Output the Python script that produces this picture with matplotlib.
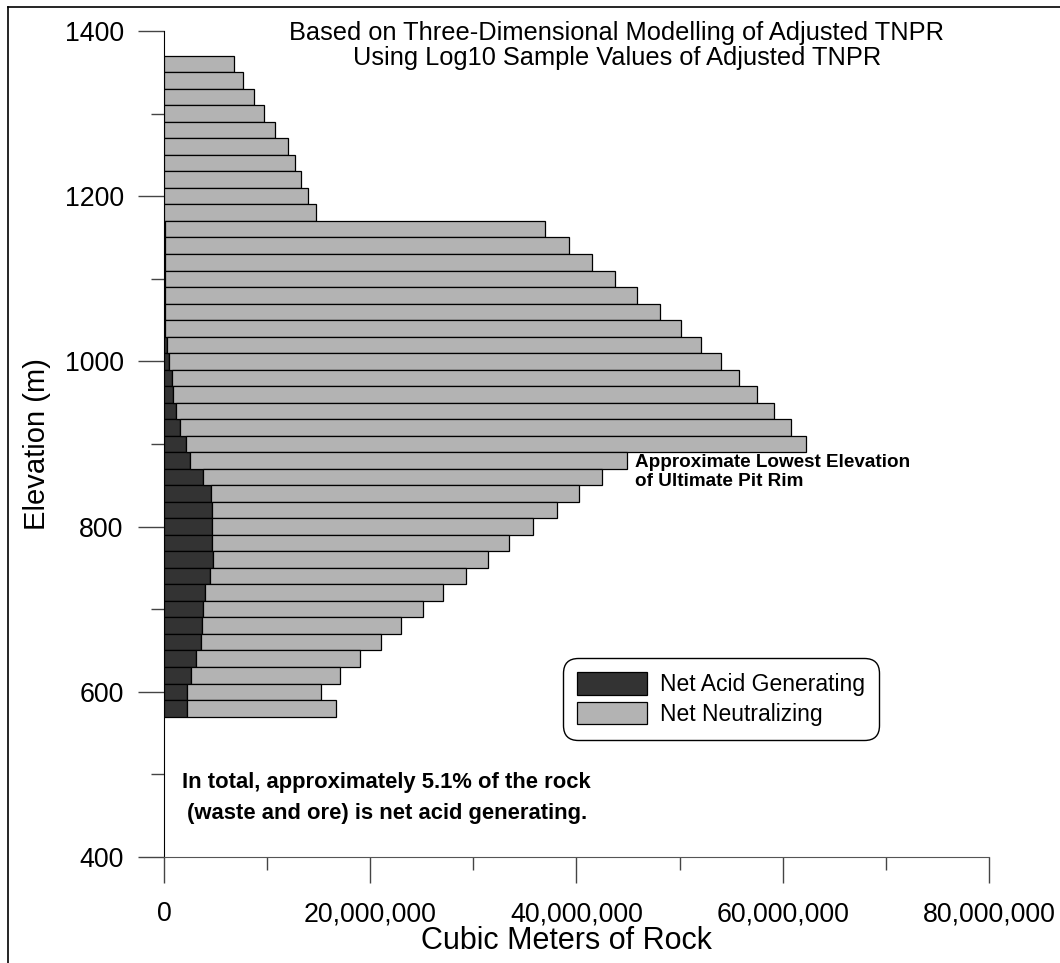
import matplotlib
matplotlib.use("Agg")
import matplotlib.pyplot as plt
import matplotlib.ticker as mticker
from matplotlib.lines import Line2D
import numpy as np

plt.rcParams['font.family'] = ['Liberation Sans', 'DejaVu Sans']

# bench elevations (m), 20 m benches, top to bottom
elevation = np.arange(1360, 570, -20)

# volumes in millions of cubic metres
acid = [0, 0, 0, 0, 0, 0, 0, 0, 0, 0,
        0.13, 0.13, 0.12, 0.06, 0.06, 0.06, 0.06, 0.26, 0.48, 0.74,
        0.87, 1.13, 1.58, 2.1, 2.5, 3.8, 4.55, 4.7, 4.7, 4.68,
        4.78, 4.5, 4.0, 3.75, 3.68, 3.58, 3.1, 2.6, 2.2, 2.2]
neutral = [6.8, 7.7, 8.7, 9.7, 10.8, 12.0, 12.7, 13.3, 14.0, 14.7,
           36.77, 39.17, 41.38, 43.64, 45.84, 48.04, 50.04, 51.84, 53.52, 55.06,
           56.63, 58.07, 59.22, 60.2, 42.4, 38.7, 35.65, 33.4, 31.1, 28.82,
           26.62, 24.8, 23.1, 21.35, 19.32, 17.42, 15.9, 14.5, 13.0, 14.5]

acid = np.array(acid) * 1e6
neutral = np.array(neutral) * 1e6

fig = plt.figure(figsize=(10.6, 9.63), dpi=100)
ax = fig.add_axes([0.1547, 0.1101, 0.7783, 0.8577])

ax.barh(elevation, acid, height=20, color='#333333', edgecolor='black',
        linewidth=0.9, label='Net Acid Generating', zorder=3)
ax.barh(elevation, neutral, left=acid, height=20, color='#b3b3b3',
        edgecolor='black', linewidth=0.9, label='Net Neutralizing', zorder=3)

ax.set_xlim(0, 80e6)
ax.set_ylim(400, 1400)
ax.spines['top'].set_visible(False)
ax.spines['right'].set_visible(False)
ax.spines['left'].set_color('black')
ax.spines['bottom'].set_color('#555555')

ax.xaxis.set_major_locator(mticker.MultipleLocator(20e6))
ax.xaxis.set_minor_locator(mticker.MultipleLocator(10e6))
ax.xaxis.set_major_formatter(mticker.FuncFormatter(lambda v, p: f"{v:,.0f}"))
ax.yaxis.set_major_locator(mticker.MultipleLocator(200))
ax.yaxis.set_minor_locator(mticker.MultipleLocator(100))

ax.tick_params(axis='both', which='major', direction='out', length=19,
               width=1, color='#444444', labelsize=19.3)
ax.tick_params(axis='both', which='minor', direction='out', length=9.5,
               width=1, color='#444444')
ax.tick_params(axis='y', which='major', pad=10)
ax.tick_params(axis='x', which='major', pad=13)

ax.set_ylabel('Elevation (m)', fontsize=21)
ax.yaxis.set_label_coords(-0.137, 0.5)
ax.set_xlabel('Cubic Meters of Rock', fontsize=22)
ax.xaxis.set_label_coords(0.488, -0.083)

fig.text(0.582, 0.953, 'Based on Three-Dimensional Modelling of Adjusted TNPR\n'
         'Using Log10 Sample Values of Adjusted TNPR',
         ha='center', va='center', fontsize=18.3, linespacing=1.05)

ax.text(45.7e6, 866, 'Approximate Lowest Elevation\nof Ultimate Pit Rim',
        ha='left', va='center', fontsize=13.6, fontweight='bold',
        linespacing=1.2, zorder=4)

ax.text(21.6e6, 471, 'In total, approximately 5.1% of the rock\n'
        '(waste and ore) is net acid generating.',
        ha='center', va='center', fontsize=15.8, fontweight='bold',
        linespacing=1.62)

leg = ax.legend(loc='lower left', bbox_to_anchor=(0.4836, 0.1416),
                fontsize=16.5, handlelength=3.05, handleheight=1.13,
                handletextpad=0.57, labelspacing=0.26, borderpad=0.61,
                borderaxespad=0, frameon=True, fancybox=True)
frame = leg.get_frame()
frame.set_edgecolor('black')
frame.set_linewidth(1.0)
frame.set_alpha(1)
frame.set_boxstyle('round', pad=0, rounding_size=0.65)

# outer frame line on the left and top
fig.add_artist(Line2D([0.0075, 0.0075], [0, 0.9927], color='black', lw=1.2))
fig.add_artist(Line2D([0.0075, 1], [0.9927, 0.9927], color='black', lw=1.2))

fig.savefig('out.png', dpi=100)
